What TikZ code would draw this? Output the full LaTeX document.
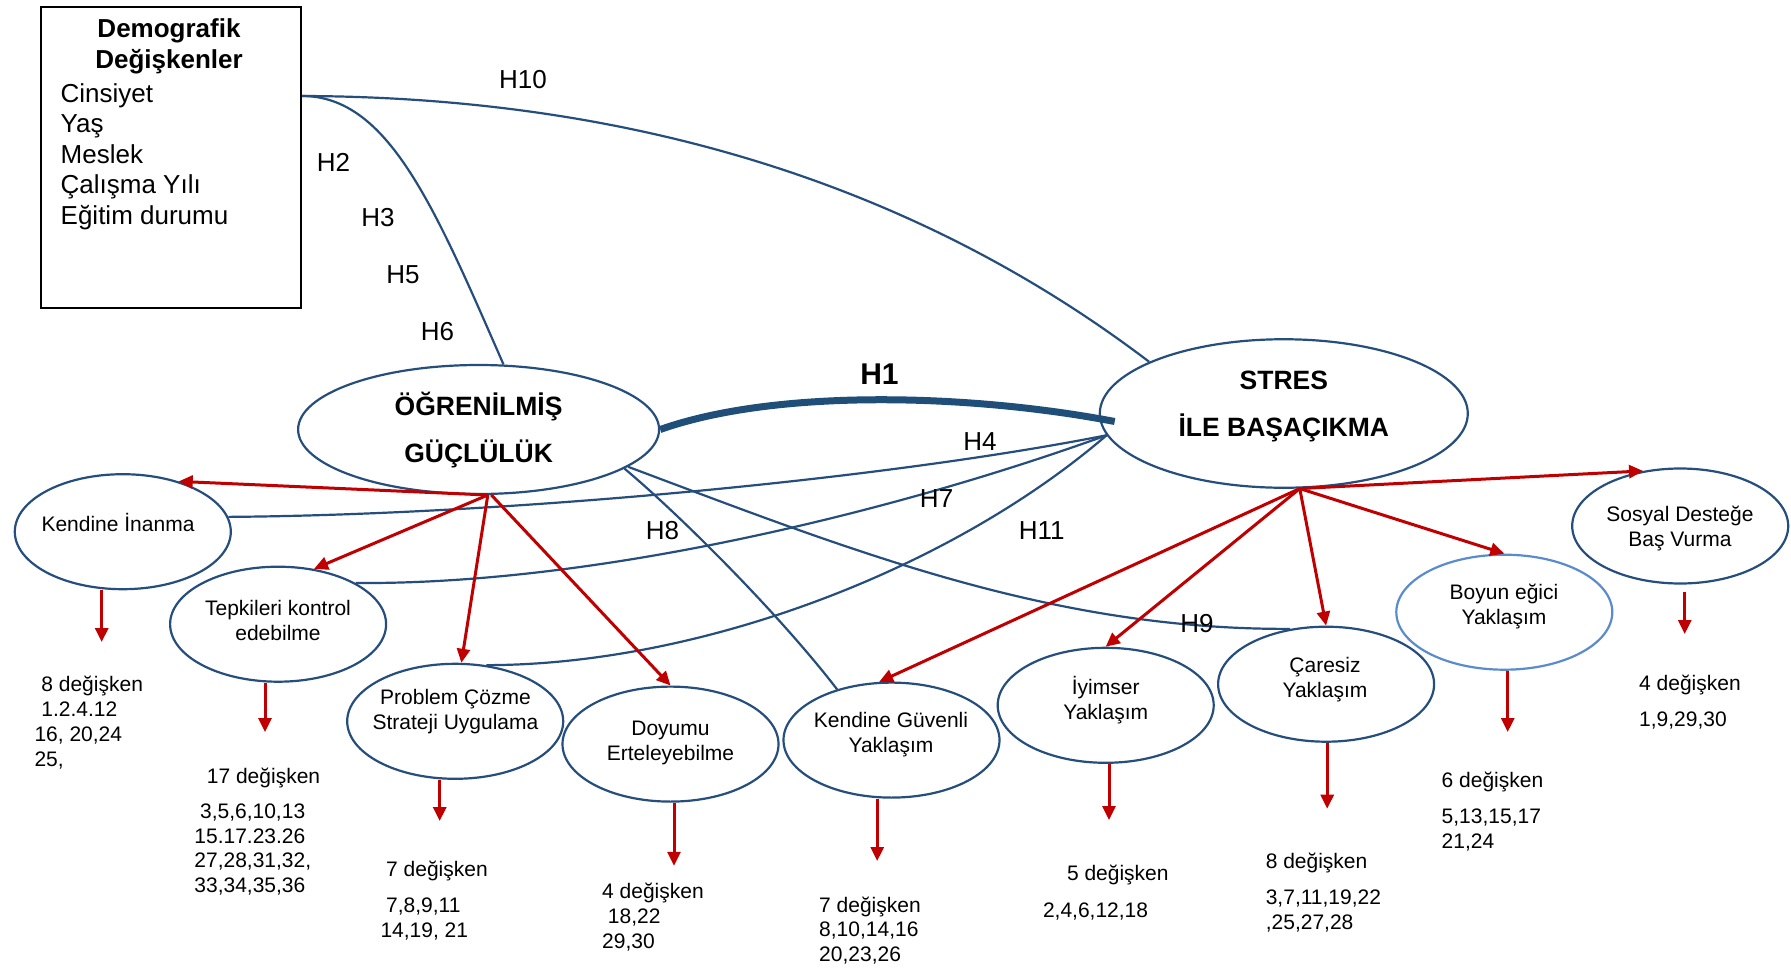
\documentclass[tikz,border=0pt]{standalone}
\usepackage{fontspec}
\setmainfont{Liberation Sans}
\usetikzlibrary{arrows.meta,shapes.geometric}
\definecolor{dblue}{RGB}{38,78,125}
\definecolor{lblue}{RGB}{90,140,205}
\definecolor{dred}{RGB}{192,0,0}
\definecolor{hblue}{RGB}{31,78,121}
\begin{document}
\begin{tikzpicture}[x=1pt,y=-1pt,
 ell/.style={ellipse, draw=dblue, line width=2.2pt, fill=white, inner sep=0pt, minimum width=216pt, minimum height=115pt},
 bigell/.style={ellipse, draw=dblue, line width=2.2pt, fill=white, inner sep=0pt},
 etxt/.style={align=center, font=\fontsize{21}{25}\selectfont, inner sep=0pt},
 btxt/.style={align=center, font=\fontsize{26.5}{46.5}\selectfont\bfseries, inner sep=0pt},
 ntxt/.style={align=left, anchor=north west, font=\fontsize{21}{24.6}\selectfont, inner sep=0pt},
 hl/.style={font=\fontsize{26}{30}\selectfont, inner sep=0pt},
 conn/.style={draw=dblue, line width=2.2pt},
 thick1/.style={draw=hblue, line width=7pt},
 rarr/.style={draw=dred, line width=3pt, -{Triangle[length=14pt,width=13pt]}},
]
\useasboundingbox (0,0) rectangle (1791,969);
\fill[white] (0,0) rectangle (1791,969);

% demographic box
\node[draw=black, line width=2pt, minimum width=260pt, minimum height=301pt, inner sep=0pt, anchor=north west] (demo) at (40,6) {};
\node[align=center, inner sep=0pt, font=\fontsize{26}{31}\selectfont\bfseries] (demotitle) at (169,46.5) {Demografik\\Değişkenler};
\node[align=left, anchor=north west, inner sep=0pt, font=\fontsize{26}{30.5}\selectfont] (demolist) at (60.5,83) {Cinsiyet\\Yaş\\Meslek\\Çalışma Yılı\\Eğitim durumu};

% main ellipses
\node[bigell, minimum width=361pt, minimum height=129pt] (ogr) at (478.6,429.5) {};
\node[btxt] (ogrt) at (478.6,430) {ÖĞRENİLMİŞ\\GÜÇLÜLÜK};
\node[bigell, minimum width=368pt, minimum height=148.5pt] (stres) at (1283.8,413.5) {};
\node[btxt] (strest) at (1283.8,406.6) {STRES\\İLE BAŞAÇIKMA};

% sub ellipses
\node[ell] (inanma) at (122.8,531.7) {};
\node[etxt] (inanmat) at (118,522) {Kendine İnanma};
\node[ell] (tepki) at (278.1,624.2) {};
\node[etxt] (tepkit) at (278,620) {Tepkileri kontrol\\edebilme};
\node[ell] (problem) at (455.2,721.3) {};
\node[etxt] (problemt) at (455.5,711.6) {Problem Çözme\\Strateji Uygulama};
\node[ell] (doyumu) at (670.5,744.1) {};
\node[etxt] (doyumut) at (670.5,743) {Doyumu\\Erteleyebilme};
\node[ell] (guvenli) at (891.5,740.1) {};
\node[etxt] (guvenlit) at (891,735) {Kendine Güvenli\\Yaklaşım};
\node[ell] (iyimser) at (1105.7,705.3) {};
\node[etxt] (iyimsert) at (1105.7,700.2) {İyimser\\Yaklaşım};
\node[ell] (caresiz) at (1326.1,684.2) {};
\node[etxt] (caresizt) at (1325,679.6) {Çaresiz\\Yaklaşım};
\node[ell, draw=lblue] (boyun) at (1504.3,612.2) {};
\node[etxt] (boyunt) at (1504,606.5) {Boyun eğici\\Yaklaşım};
\node[ell] (sosyal) at (1680.2,526) {};
\node[etxt] (sosyalt) at (1680,528.8) {Sosyal Desteğe\\Baş Vurma};

% hypothesis connectors
\draw[conn] ([yshift=-90pt]demo.north east) .. controls (628,97) and (914,183) .. (stres.159);
\draw[conn] ([yshift=-90pt]demo.north east) .. controls (388,96) and (434,205.6) .. (ogr.69);
\draw[thick1] (ogr.east) .. controls (776.7,388.3) and (970.9,394) .. ([shift={(16pt,-8pt)}]stres.west);
\draw[conn] (stres.187) .. controls (880,480) and (500,515) .. (inanma.8);
\draw[conn] (stres.187) .. controls (900,510) and (600,585) .. (tepki.28);
\draw[conn] (stres.187) .. controls (950,570) and (700,665) .. (problem.61);
\draw[conn] (ogr.-15) .. controls (680,515) and (780,615) .. (guvenli.137);
\draw[conn] (ogr.-14) .. controls (850,550) and (1050,630) .. (caresiz.123);

% red arrows
\draw[rarr] (ogr.-82) -- (inanma.42);
\draw[rarr] (ogr.-82) -- (tepki.57);
\draw[rarr] (ogr.-82) -- (problem.84);
\draw[rarr] (ogr.-79) -- (doyumu.north);
\draw[rarr] (stres.-78) -- (sosyal.124);
\draw[rarr] (stres.-78) -- (boyun.north);
\draw[rarr] (stres.-78) -- (caresiz.north);
\draw[rarr] (stres.-78) -- (iyimser.north);
\draw[rarr] (stres.-78) -- (guvenli.102);

% down arrows
\coordinate (d1) at (101.7,642);
\coordinate (d2) at (265,732);
\coordinate (d3) at (439.7,821);
\coordinate (d4) at (674,865.8);
\coordinate (d5) at (877.2,861);
\coordinate (d6) at (1109,820);
\coordinate (d7) at (1327.2,808.7);
\coordinate (d8) at (1507.7,732);
\coordinate (d9) at (1684.7,634);
\draw[rarr] (inanma.south -| d1) -- (d1);
\draw[rarr] (tepki.south -| d2) -- (d2);
\draw[rarr] (problem.south -| d3) -- (d3);
\draw[rarr] (doyumu.south -| d4) -- (d4);
\draw[rarr] (guvenli.south -| d5) -- (d5);
\draw[rarr] (iyimser.south -| d6) -- (d6);
\draw[rarr] (caresiz.south -| d7) -- (d7);
\draw[rarr] (boyun.south -| d8) -- (d8);
\draw[rarr] ([yshift=-7pt]sosyal.south -| d9) -- (d9);

% hypothesis labels
\node[hl] (h10) at (523,80) {H10};
\node[hl] (h2) at (333.5,162) {H2};
\node[hl] (h3) at (378,218) {H3};
\node[hl] (h5) at (403,275) {H5};
\node[hl] (h6) at (437.5,332) {H6};
\node[inner sep=0pt, font=\fontsize{30}{34}\selectfont\bfseries] (h1) at (879.5,374.6) {H1};
\node[hl] (h4) at (980,442) {H4};
\node[hl] (h7) at (936.6,499) {H7};
\node[hl] (h8) at (662.5,531) {H8};
\node[hl] (h11) at (1041.7,531) {H11};
\node[hl] (h9) at (1197,623.6) {H9};

% item counts
\node[ntxt, font=\fontsize{21}{25}\selectfont] (n1) at (34.3,676.2) {\hspace{6.9pt}8 değişken\\\hspace{6.9pt}1.2.4.12\\16, 20,24\\25,};
\node[ntxt] (n2) at (206.7,767.6) {17 değişken};
\node[ntxt, font=\fontsize{21}{24.4}\selectfont] (n3) at (194.2,804) {\hspace{5.7pt}3,5,6,10,13\\15.17.23.26\\27,28,31,32,\\33,34,35,36};
\node[ntxt] (n4) at (386,861) {7 değişken};
\node[ntxt] (n5) at (380.3,897.8) {\hspace{5.7pt}7,8,9,11\\14,19, 21};
\node[ntxt, font=\fontsize{21}{25}\selectfont] (n6) at (602,883) {4 değişken\\\hspace{5.7pt}18,22\\29,30};
\node[ntxt] (n7) at (819,896.6) {7 değişken\\8,10,14,16\\20,23,26};
\node[ntxt] (n8) at (1066.8,864.6) {5 değişken};
\node[ntxt] (n9) at (1042.8,902.3) {2,4,6,12,18};
\node[ntxt] (n10) at (1265.6,853.2) {8 değişken};
\node[ntxt] (n11) at (1265.6,889.8) {3,7,11,19,22\\,25,27,28};
\node[ntxt] (n12) at (1441.5,772) {6 değişken};
\node[ntxt] (n13) at (1441.5,808.7) {5,13,15,17\\21,24};
\node[ntxt] (n14) at (1639,675) {4 değişken};
\node[ntxt] (n15) at (1639,711.6) {1,9,29,30};
\end{tikzpicture}
\end{document}
